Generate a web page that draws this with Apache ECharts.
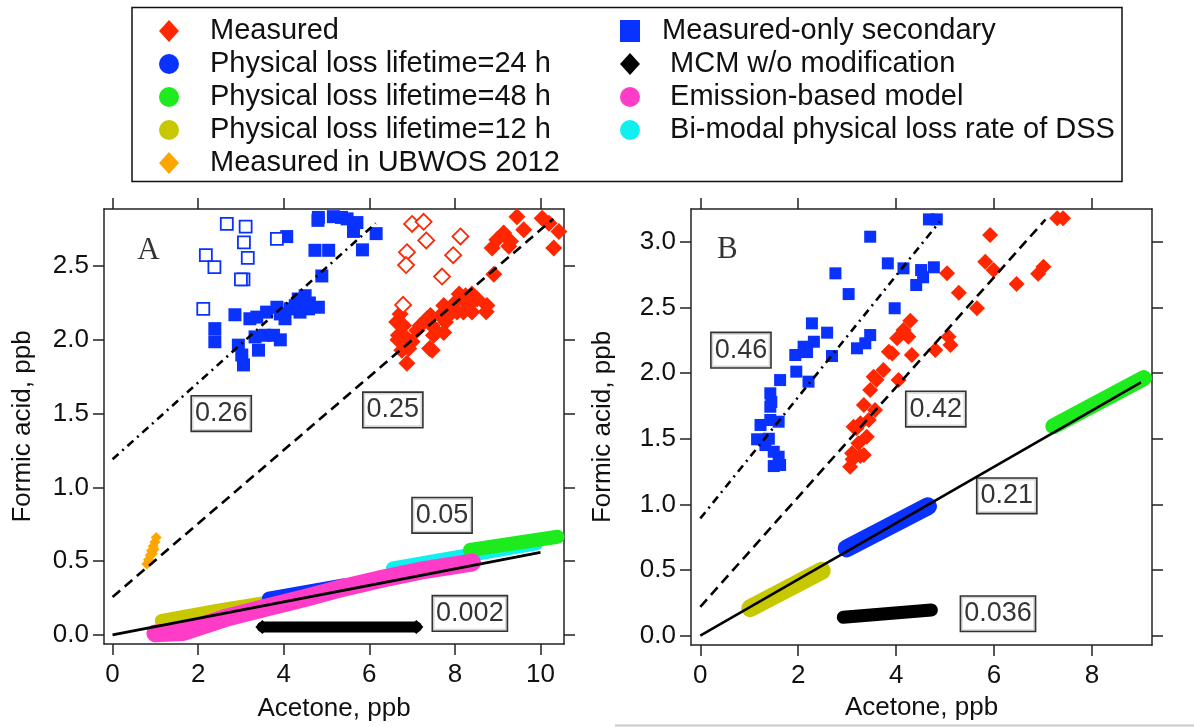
<!DOCTYPE html>
<html>
<head>
<meta charset="utf-8">
<title>Formic acid vs acetone</title>
<script src="https://cdn.jsdelivr.net/npm/echarts@6.0.0/dist/echarts.min.js"></script>
<style>
  html, body { margin: 0; padding: 0; background: #fff; }
  #chartBox { width: 1194px; height: 727px; }
</style>
</head>
<body>
<div id="chartBox"></div>
<script>
// tick labels
const xTicksA = [0, 2, 4, 6, 8, 10]
const yTicksA = [0, 0.5, 1, 1.5, 2, 2.5]
const xTicksB = [0, 2, 4, 6, 8]
const yTicksB = [0, 0.5, 1, 1.5, 2, 2.5, 3]

// panel A - measured (acetone, formic acid)
const measuredA = [
  [9.45, 2.835], [9.61, 2.746], [10.04, 2.824], [10.20, 2.791], [10.43, 2.735], [10.31, 2.623],
  [9.14, 2.724], [9.30, 2.668], [8.98, 2.679], [8.87, 2.623], [9.26, 2.634], [8.91, 2.444],
  [8.75, 2.232], [8.52, 2.277], [8.40, 2.31], [8.25, 2.299], [8.32, 2.232], [8.20, 2.188],
  [8.40, 2.188], [8.01, 2.255], [8.05, 2.188], [7.89, 2.176], [7.74, 2.232], [7.66, 2.165],
  [7.78, 2.121], [7.58, 2.054], [7.43, 2.165], [7.46, 2.098], [7.50, 2.031], [7.41, 1.942],
  [7.35, 2.143], [6.72, 2.176], [6.80, 2.098], [6.68, 2.031], [6.88, 2.009], [7.00, 1.987],
  [7.11, 2.064], [6.92, 1.942], [6.76, 1.93], [6.88, 1.841], [6.64, 2.121], [7.19, 2.098],
  [6.67, 2.0], [7.74, 2.05], [7.47, 1.93], [8.10, 2.31], [7.92, 2.21], [8.73, 2.19]
]
const measuredExclA = [
  [7.0, 2.786], [7.27, 2.80], [7.33, 2.674], [6.88, 2.594], [6.86, 2.507],
  [7.70, 2.429], [7.96, 2.574], [8.13, 2.701], [6.79, 2.237]
]
const secondaryA = [
  [4.07, 2.70], [4.81, 2.83], [5.16, 2.835], [5.48, 2.82], [5.71, 2.795], [4.80, 2.81],
  [5.63, 2.735], [6.16, 2.72], [5.84, 2.61], [4.73, 2.607], [5.05, 2.607], [4.89, 2.433],
  [4.34, 2.277], [4.50, 2.299], [4.27, 2.232], [4.38, 2.188], [4.58, 2.21], [4.81, 2.221],
  [4.15, 2.21], [3.84, 2.221], [3.92, 2.176], [3.60, 2.188], [3.37, 2.154], [3.21, 2.143],
  [2.86, 2.17], [2.39, 2.076], [2.39, 1.987], [2.94, 1.964], [3.02, 1.897], [3.06, 1.83],
  [3.41, 1.93], [3.33, 2.02], [3.76, 2.031], [3.56, 2.031], [3.92, 2.0], [4.03, 2.143],
  [4.42, 2.26], [5.35, 2.83], [4.60, 2.25]
]
const secondaryExclA = [
  [2.67, 2.786], [3.11, 2.768], [3.07, 2.661], [3.16, 2.556], [2.18, 2.574],
  [2.38, 2.493], [3.06, 2.41], [3.00, 2.41], [2.12, 2.21], [3.84, 2.684]
]
const ubwosA = [
  [0.80, 0.48], [0.84, 0.51], [0.88, 0.54], [0.91, 0.57], [0.95, 0.60],
  [0.99, 0.63], [1.02, 0.66], [0.86, 0.50], [0.93, 0.55], [0.97, 0.58]
]
// model bands, panel A
const pl24A = [[3.65, 0.245], [5.4, 0.335]]
const pl48A = [[8.35, 0.575], [10.4, 0.665]]
const pl12A = [[1.15, 0.095], [2.5, 0.165], [4.2, 0.245]]
const bimodalA = [[6.55, 0.45], [9.9, 0.62]]
const emissionA = [[1.0, 0.01], [1.65, 0.02], [2.7, 0.12], [3.6, 0.185], [4.5, 0.25], [5.4, 0.32], [6.3, 0.38], [7.2, 0.435], [8.4, 0.49]]
const mcmA = [[3.5, 0.054], [7.1, 0.054]]
// fits, panel A
const fitSecA = [[0, 1.19], [6.15, 2.79]]
const fitMeasA = [[0, 0.257], [10.3, 2.82]]
const fitModelA = [[0, 0], [10, 0.559]]

// panel B
const measuredB = [
  [5.92, 3.052], [5.82, 2.848], [5.99, 2.785], [5.04, 2.76], [5.28, 2.612], [5.65, 2.494],
  [4.29, 2.399], [4.15, 2.328], [4.02, 2.265], [4.25, 2.277], [4.32, 2.138], [3.85, 2.163],
  [3.74, 2.024], [3.54, 1.973], [4.05, 1.947], [3.47, 1.871], [3.34, 1.757], [3.57, 1.719],
  [3.44, 1.643], [3.27, 1.618], [3.13, 1.592], [3.40, 1.516], [3.23, 1.465], [3.10, 1.389],
  [3.34, 1.376], [3.06, 1.287], [4.80, 2.176], [5.07, 2.277], [5.11, 2.214], [7.29, 3.18],
  [7.41, 3.18], [6.90, 2.757], [7.01, 2.81], [6.46, 2.678], [3.11, 1.343], [3.27, 1.369],
  [3.19, 1.58], [3.60, 1.95], [3.92, 2.15]
]
const secondaryB = [
  [4.67, 3.171], [4.83, 3.171], [3.47, 3.039], [2.76, 2.76], [3.03, 2.602], [3.83, 2.836],
  [4.15, 2.798], [4.51, 2.785], [4.77, 2.806], [4.55, 2.73], [4.41, 2.671], [3.97, 2.494],
  [2.28, 2.379], [2.59, 2.308], [2.32, 2.239], [2.11, 2.201], [1.94, 2.138], [2.69, 2.13],
  [1.96, 2.011], [2.21, 1.935], [1.63, 1.947], [1.43, 1.846], [1.43, 1.744], [1.43, 1.643],
  [1.60, 1.63], [1.23, 1.605], [1.16, 1.496], [1.33, 1.452], [1.50, 1.401], [1.60, 1.363],
  [1.50, 1.292], [1.63, 1.30], [3.20, 2.189], [3.37, 2.227], [3.47, 2.29], [2.18, 2.16],
  [1.45, 1.78], [1.40, 1.5]
]
const pl24B = [[2.99, 0.665], [4.65, 0.985]]
const pl48B = [[7.21, 1.595], [9.06, 1.962]]
const pl12B = [[1.02, 0.21], [2.48, 0.495]]
const mcmB = [[2.92, 0.14], [4.72, 0.195]]
const fitSecB = [[0, 0.893], [4.89, 3.154]]
const fitMeasB = [[0, 0.22], [7.05, 3.17]]
const fitModelB = [[0, 0], [9, 1.93]]

// slope boxes
const slopesA = [['0.26', 2.54, 1.50], ['0.25', 6.55, 1.525], ['0.05', 7.70, 0.81], ['0.002', 8.35, 0.145]]
const slopesB = [['0.46', 0.83, 2.175], ['0.42', 4.81, 1.726], ['0.21', 6.26, 1.065], ['0.036', 6.08, 0.167]]

const FONT = 'Liberation Sans, Arial, sans-serif'
const RED = '#FF2600'
const BLUE = '#0A32FF'
const GREEN = '#1EEB1E'
const OLIVE = '#C8C800'
const ORANGE = '#FFA500'
const PINK = '#FF3CC8'
const CYAN = '#10F0F0'
const frameLine = { color: '#222', width: 1.5 }

function xAxes (gridIndex, min, max, ticks, gap) {
  return [
    {
      type: 'value', gridIndex: gridIndex, min: min, max: max, position: 'bottom',
      name: 'Acetone, ppb', nameLocation: 'middle', nameGap: gap,
      nameTextStyle: { fontSize: 26, color: '#111', fontFamily: FONT },
      axisLine: { show: true, onZero: false, lineStyle: frameLine },
      axisTick: { show: true, inside: false, length: 11, customValues: ticks, lineStyle: frameLine },
      axisLabel: { show: true, customValues: ticks, fontSize: 26, margin: 18, color: '#111', fontFamily: FONT },
      splitLine: { show: false }
    },
    {
      type: 'value', gridIndex: gridIndex, min: min, max: max, position: 'top',
      axisLine: { show: true, onZero: false, lineStyle: frameLine },
      axisTick: { show: true, inside: false, length: 11, customValues: ticks, lineStyle: frameLine },
      axisLabel: { show: false },
      splitLine: { show: false }
    }
  ]
}

function yAxes (gridIndex, min, max, ticks, gap) {
  return [
    {
      type: 'value', gridIndex: gridIndex, min: min, max: max, position: 'left',
      name: 'Formic acid, ppb', nameLocation: 'middle', nameGap: gap,
      nameTextStyle: { fontSize: 26, color: '#111', fontFamily: FONT },
      axisLine: { show: true, onZero: false, lineStyle: frameLine },
      axisTick: { show: true, inside: false, length: 11, customValues: ticks, lineStyle: frameLine },
      axisLabel: { show: true, customValues: ticks, fontSize: 26, margin: 15, color: '#111', fontFamily: FONT,
        formatter: function (v) { return v.toFixed(1) } },
      splitLine: { show: false }
    },
    {
      type: 'value', gridIndex: gridIndex, min: min, max: max, position: 'right',
      axisLine: { show: true, onZero: false, lineStyle: frameLine },
      axisTick: { show: true, inside: false, length: 11, customValues: ticks, lineStyle: frameLine },
      axisLabel: { show: false },
      splitLine: { show: false }
    }
  ]
}

function band (name, data, color, width, ax, z) {
  return {
    name: name, type: 'line', data: data, xAxisIndex: ax, yAxisIndex: ax,
    symbol: 'none', silent: true, z: z,
    itemStyle: { color: color },
    lineStyle: { color: color, width: width, cap: 'round', join: 'round' }
  }
}

function fit (data, dash, ax) {
  return {
    type: 'line', data: data, xAxisIndex: ax, yAxisIndex: ax,
    symbol: 'none', silent: true, z: 10,
    lineStyle: { color: '#000', width: 2.6, type: dash }
  }
}

function pts (name, data, symbol, size, color, hollow, ax) {
  return {
    name: name, type: 'scatter', data: data, xAxisIndex: ax, yAxisIndex: ax,
    symbol: symbol, symbolSize: size, z: 5,
    itemStyle: hollow
      ? { color: '#fff', borderColor: color, borderWidth: 1.8, opacity: 1 }
      : { color: color, opacity: 1 }
  }
}

function boxes (list, ax) {
  return {
    type: 'scatter', xAxisIndex: ax, yAxisIndex: ax, silent: true, z: 20,
    symbolSize: 1, itemStyle: { color: 'rgba(0,0,0,0)' },
    data: list.map(function (s) { return { name: s[0], value: [s[1], s[2]] } }),
    label: {
      show: true, position: 'inside', formatter: '{b}',
      fontSize: 27, color: '#000', fontFamily: FONT,
      backgroundColor: '#fff', borderColor: '#000', borderWidth: 1.6, padding: [4, 3, 3, 3]
    }
  }
}

function panelLetter (text, x, y, ax) {
  return {
    type: 'scatter', xAxisIndex: ax, yAxisIndex: ax, silent: true, z: 20,
    symbolSize: 1, itemStyle: { color: 'rgba(0,0,0,0)' },
    data: [{ name: text, value: [x, y] }],
    label: { show: true, position: 'inside', formatter: '{b}', fontSize: 31, color: '#000',
      fontFamily: 'Liberation Serif, Times New Roman, serif' }
  }
}

const option = {
  animation: false,
  backgroundColor: '#fff',
  legend: [
    {
      orient: 'vertical', left: 159, top: 16, padding: 0,
      itemWidth: 20, itemHeight: 22, itemGap: 3,
      textStyle: { fontSize: 29, lineHeight: 30, color: '#111', fontFamily: FONT, padding: [0, 0, 0, 26] },
      selectedMode: false,
      data: [
        { name: 'Measured', icon: 'diamond' },
        { name: 'Physical loss lifetime=24 h', icon: 'circle' },
        { name: 'Physical loss lifetime=48 h', icon: 'circle' },
        { name: 'Physical loss lifetime=12 h', icon: 'circle' },
        { name: 'Measured in UBWOS 2012', icon: 'diamond' }
      ]
    },
    {
      orient: 'vertical', left: 620, top: 16, padding: 0,
      itemWidth: 20, itemHeight: 22, itemGap: 3,
      textStyle: { fontSize: 29, lineHeight: 30, color: '#111', fontFamily: FONT, padding: [0, 0, 0, 17] },
      selectedMode: false,
      formatter: function (name) { return name === 'Measured-only secondary' ? name : ' ' + name },
      data: [
        { name: 'Measured-only secondary', icon: 'rect' },
        { name: 'MCM w/o modification', icon: 'diamond' },
        { name: 'Emission-based model', icon: 'circle' },
        { name: 'Bi-modal physical loss rate of DSS', icon: 'circle' }
      ]
    }
  ],
  graphic: [
    { type: 'rect', shape: { x: 132, y: 7.5, width: 990, height: 174 },
      style: { fill: 'none', stroke: '#111', lineWidth: 1.5 }, silent: true },
    { type: 'line', shape: { x1: 615, y1: 725.5, x2: 1194, y2: 725.5 },
      style: { stroke: '#c8c8c8', lineWidth: 2 }, silent: true }
  ],
  grid: [
    { left: 104, top: 209, width: 460, height: 440 },
    { left: 691, top: 209, width: 461, height: 436 }
  ],
  xAxis: xAxes(0, -0.2, 10.55, xTicksA, 52).concat(xAxes(1, -0.19, 9.226, xTicksB, 50)),
  yAxis: yAxes(0, -0.062, 2.887, yTicksA, 68).concat(yAxes(1, -0.071, 3.25, yTicksB, 75)),
  series: [
    // panel A
    band('Bi-modal physical loss rate of DSS', bimodalA, CYAN, 14, 0, 2),
    band('Physical loss lifetime=48 h', pl48A, GREEN, 14, 0, 2),
    band('Physical loss lifetime=12 h', pl12A, OLIVE, 14, 0, 2),
    band('Physical loss lifetime=24 h', pl24A, BLUE, 14, 0, 2),
    band('Emission-based model', emissionA, PINK, 18, 0, 3),
    Object.assign(band('MCM w/o modification', mcmA, '#000', 11, 0, 3),
      { symbol: 'diamond', symbolSize: 14, showAllSymbol: true }),
    pts('Measured in UBWOS 2012', ubwosA, 'diamond', 11, ORANGE, false, 0),
    pts('Measured', measuredA, 'diamond', 17, RED, false, 0),
    pts('Measured excluded', measuredExclA, 'diamond', 16, RED, true, 0),
    pts('Measured-only secondary', secondaryA, 'rect', 13, BLUE, false, 0),
    pts('Secondary excluded', secondaryExclA, 'rect', 12, BLUE, true, 0),
    fit(fitSecA, [8, 5, 2, 5], 0),
    fit(fitMeasA, [10, 6], 0),
    fit(fitModelA, 'solid', 0),
    boxes(slopesA, 0),
    panelLetter('A', 0.84, 2.60, 0),
    // panel B
    band('Physical loss lifetime=12 h', pl12B, OLIVE, 18, 2, 2),
    band('Physical loss lifetime=24 h', pl24B, BLUE, 18, 2, 2),
    band('Physical loss lifetime=48 h', pl48B, GREEN, 16, 2, 2),
    band('MCM w/o modification', mcmB, '#000', 13, 2, 3),
    pts('Measured', measuredB, 'diamond', 16, RED, false, 2),
    pts('Measured-only secondary', secondaryB, 'rect', 12, BLUE, false, 2),
    fit(fitSecB, [8, 5, 2, 5], 2),
    fit(fitMeasB, [10, 6], 2),
    fit(fitModelB, 'solid', 2),
    boxes(slopesB, 2),
    panelLetter('B', 0.55, 2.94, 2)
  ]
}

const chart = echarts.init(document.getElementById('chartBox'))
chart.setOption(option)
</script>
</body>
</html>
